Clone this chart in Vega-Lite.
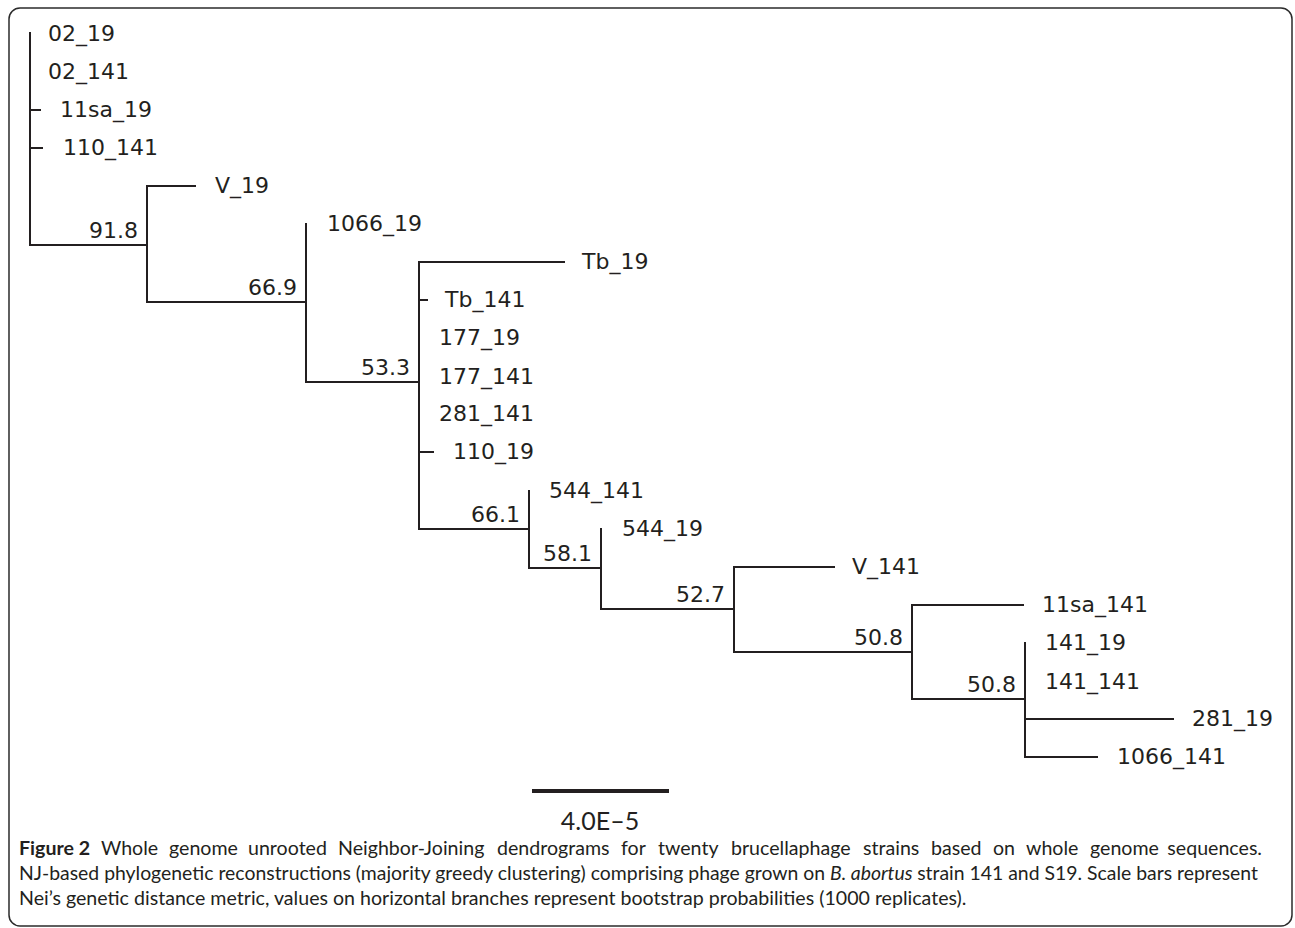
{
  "$schema": "https://vega.github.io/schema/vega-lite/v6.json",
  "width": 1295,
  "height": 928,
  "autosize": {"type": "fit", "contains": "padding"},
  "padding": 0,
  "background": "white",
  "config": {"view": {"stroke": null}},
  "datasets": {
    "frame": [{"x": 9, "x2": 1292, "y": 8, "y2": 926}],
    "branches": [
      {"x": 30, "x2": 30, "y": 33, "y2": 245},
      {"x": 147, "x2": 147, "y": 186, "y2": 302},
      {"x": 306, "x2": 306, "y": 224, "y2": 382},
      {"x": 419, "x2": 419, "y": 262, "y2": 529},
      {"x": 529, "x2": 529, "y": 491, "y2": 568},
      {"x": 601, "x2": 601, "y": 529, "y2": 609},
      {"x": 734, "x2": 734, "y": 567, "y2": 652},
      {"x": 912, "x2": 912, "y": 605, "y2": 699},
      {"x": 1025, "x2": 1025, "y": 643, "y2": 757},
      {"x": 30, "x2": 147, "y": 245, "y2": 245},
      {"x": 147, "x2": 195, "y": 186, "y2": 186},
      {"x": 147, "x2": 306, "y": 302, "y2": 302},
      {"x": 306, "x2": 419, "y": 382, "y2": 382},
      {"x": 419, "x2": 564, "y": 262, "y2": 262},
      {"x": 419, "x2": 427, "y": 300, "y2": 300},
      {"x": 419, "x2": 433, "y": 452, "y2": 452},
      {"x": 419, "x2": 529, "y": 529, "y2": 529},
      {"x": 529, "x2": 601, "y": 568, "y2": 568},
      {"x": 601, "x2": 734, "y": 609, "y2": 609},
      {"x": 734, "x2": 834, "y": 567, "y2": 567},
      {"x": 734, "x2": 912, "y": 652, "y2": 652},
      {"x": 912, "x2": 1023, "y": 605, "y2": 605},
      {"x": 912, "x2": 1025, "y": 699, "y2": 699},
      {"x": 1025, "x2": 1173, "y": 719, "y2": 719},
      {"x": 1025, "x2": 1097, "y": 757, "y2": 757},
      {"x": 30, "x2": 40, "y": 110, "y2": 110},
      {"x": 30, "x2": 42, "y": 148, "y2": 148}
    ],
    "leaves": [
      {"name": "02_19", "x": 48, "y": 34},
      {"name": "02_141", "x": 48, "y": 72},
      {"name": "11sa_19", "x": 60, "y": 110},
      {"name": "110_141", "x": 63, "y": 148},
      {"name": "V_19", "x": 215, "y": 186},
      {"name": "1066_19", "x": 327, "y": 224},
      {"name": "Tb_19", "x": 582, "y": 262},
      {"name": "Tb_141", "x": 445, "y": 300},
      {"name": "177_19", "x": 439, "y": 338},
      {"name": "177_141", "x": 439, "y": 377},
      {"name": "281_141", "x": 439, "y": 414},
      {"name": "110_19", "x": 453, "y": 452},
      {"name": "544_141", "x": 549, "y": 491},
      {"name": "544_19", "x": 622, "y": 529},
      {"name": "V_141", "x": 852, "y": 567},
      {"name": "11sa_141", "x": 1042, "y": 605},
      {"name": "141_19", "x": 1045, "y": 643},
      {"name": "141_141", "x": 1045, "y": 682},
      {"name": "281_19", "x": 1192, "y": 719},
      {"name": "1066_141", "x": 1117, "y": 757}
    ],
    "bootstrap": [
      {"value": "91.8", "x": 147, "y": 245},
      {"value": "66.9", "x": 306, "y": 302},
      {"value": "53.3", "x": 419, "y": 382},
      {"value": "66.1", "x": 529, "y": 529},
      {"value": "58.1", "x": 601, "y": 568},
      {"value": "52.7", "x": 734, "y": 609},
      {"value": "50.8", "x": 912, "y": 652},
      {"value": "50.8", "x": 1025, "y": 699}
    ],
    "scalebar": [{"x": 532, "x2": 669, "y": 791, "label": "4.0E–5", "lx": 600, "ly": 822}],
    "captionBold": [
      {"text": "Figure 2", "x": 19, "y": 849}
    ],
    "captionLeft": [
      {"text": "Whole", "x": 101, "y": 849},
      {"text": "genome", "x": 169, "y": 849},
      {"text": "unrooted", "x": 248, "y": 849},
      {"text": "Neighbor-Joining", "x": 338, "y": 849},
      {"text": "dendrograms", "x": 497, "y": 849},
      {"text": "for", "x": 621, "y": 849},
      {"text": "twenty", "x": 658, "y": 849},
      {"text": "brucellaphage", "x": 731, "y": 849},
      {"text": "strains", "x": 863, "y": 849},
      {"text": "based", "x": 931, "y": 849},
      {"text": "on", "x": 993, "y": 849},
      {"text": "whole", "x": 1026, "y": 849},
      {"text": "genome", "x": 1090, "y": 849},
      {"text": "Nei’s genetic distance metric, values on horizontal branches represent bootstrap probabilities (1000 replicates).", "x": 19, "y": 899}
    ],
    "captionRight": [
      {"text": "sequences.", "x": 1262, "y": 849}
    ],
    "line2Left": [
      {"text": "NJ-based phylogenetic reconstructions (majority greedy clustering) comprising phage grown on", "x": 19, "y": 874}
    ],
    "line2Italic": [
      {"text": "B. abortus", "x": 830, "y": 874}
    ],
    "line2Right": [
      {"text": "strain 141 and S19. Scale bars represent", "x": 1258, "y": 874}
    ]
  },
  "layer": [
    {
      "data": {"name": "frame"},
      "mark": {"type": "rect", "fillOpacity": 0, "stroke": "#2b2b2b", "strokeWidth": 1.5, "cornerRadius": 11},
      "encoding": {
        "x": {"field": "x", "type": "quantitative", "scale": {"domain": [0, 1295], "nice": false, "zero": false}, "axis": null},
        "x2": {"field": "x2"},
        "y": {"field": "y", "type": "quantitative", "scale": {"domain": [0, 928], "nice": false, "zero": false, "reverse": true}, "axis": null},
        "y2": {"field": "y2"}
      }
    },
    {
      "data": {"name": "branches"},
      "mark": {"type": "rule", "color": "#231f20", "strokeWidth": 2, "strokeCap": "square"},
      "encoding": {
        "x": {"field": "x", "type": "quantitative"},
        "x2": {"field": "x2"},
        "y": {"field": "y", "type": "quantitative"},
        "y2": {"field": "y2"}
      }
    },
    {
      "data": {"name": "leaves"},
      "mark": {"type": "text", "align": "left", "baseline": "middle", "font": "DejaVu Sans", "fontSize": 22, "color": "#231f20"},
      "encoding": {
        "x": {"field": "x", "type": "quantitative"},
        "y": {"field": "y", "type": "quantitative"},
        "text": {"field": "name"}
      }
    },
    {
      "data": {"name": "bootstrap"},
      "mark": {"type": "text", "align": "right", "baseline": "alphabetic", "dx": -9, "dy": -7, "font": "DejaVu Sans", "fontSize": 22, "color": "#231f20"},
      "encoding": {
        "x": {"field": "x", "type": "quantitative"},
        "y": {"field": "y", "type": "quantitative"},
        "text": {"field": "value"}
      }
    },
    {
      "data": {"name": "scalebar"},
      "mark": {"type": "rule", "color": "#231f20", "strokeWidth": 4},
      "encoding": {
        "x": {"field": "x", "type": "quantitative"},
        "x2": {"field": "x2"},
        "y": {"field": "y", "type": "quantitative"}
      }
    },
    {
      "data": {"name": "scalebar"},
      "mark": {"type": "text", "align": "center", "baseline": "middle", "font": "Lato", "fontSize": 25, "color": "#231f20"},
      "encoding": {
        "x": {"field": "lx", "type": "quantitative"},
        "y": {"field": "ly", "type": "quantitative"},
        "text": {"field": "label"}
      }
    },
    {
      "data": {"name": "captionBold"},
      "mark": {"type": "text", "align": "left", "baseline": "middle", "font": "Lato", "fontSize": 19.6, "fontWeight": "bold", "color": "#231f20"},
      "encoding": {
        "x": {"field": "x", "type": "quantitative"},
        "y": {"field": "y", "type": "quantitative"},
        "text": {"field": "text"}
      }
    },
    {
      "data": {"name": "captionLeft"},
      "mark": {"type": "text", "align": "left", "baseline": "middle", "font": "Lato", "fontSize": 19.6, "color": "#231f20"},
      "encoding": {
        "x": {"field": "x", "type": "quantitative"},
        "y": {"field": "y", "type": "quantitative"},
        "text": {"field": "text"}
      }
    },
    {
      "data": {"name": "captionRight"},
      "mark": {"type": "text", "align": "right", "baseline": "middle", "font": "Lato", "fontSize": 19.6, "color": "#231f20"},
      "encoding": {
        "x": {"field": "x", "type": "quantitative"},
        "y": {"field": "y", "type": "quantitative"},
        "text": {"field": "text"}
      }
    },
    {
      "data": {"name": "line2Left"},
      "mark": {"type": "text", "align": "left", "baseline": "middle", "font": "Lato", "fontSize": 19.4, "color": "#231f20"},
      "encoding": {
        "x": {"field": "x", "type": "quantitative"},
        "y": {"field": "y", "type": "quantitative"},
        "text": {"field": "text"}
      }
    },
    {
      "data": {"name": "line2Italic"},
      "mark": {"type": "text", "align": "left", "baseline": "middle", "font": "Lato", "fontSize": 19.4, "fontStyle": "italic", "color": "#231f20"},
      "encoding": {
        "x": {"field": "x", "type": "quantitative"},
        "y": {"field": "y", "type": "quantitative"},
        "text": {"field": "text"}
      }
    },
    {
      "data": {"name": "line2Right"},
      "mark": {"type": "text", "align": "right", "baseline": "middle", "font": "Lato", "fontSize": 19.4, "color": "#231f20"},
      "encoding": {
        "x": {"field": "x", "type": "quantitative"},
        "y": {"field": "y", "type": "quantitative"},
        "text": {"field": "text"}
      }
    }
  ]
}
